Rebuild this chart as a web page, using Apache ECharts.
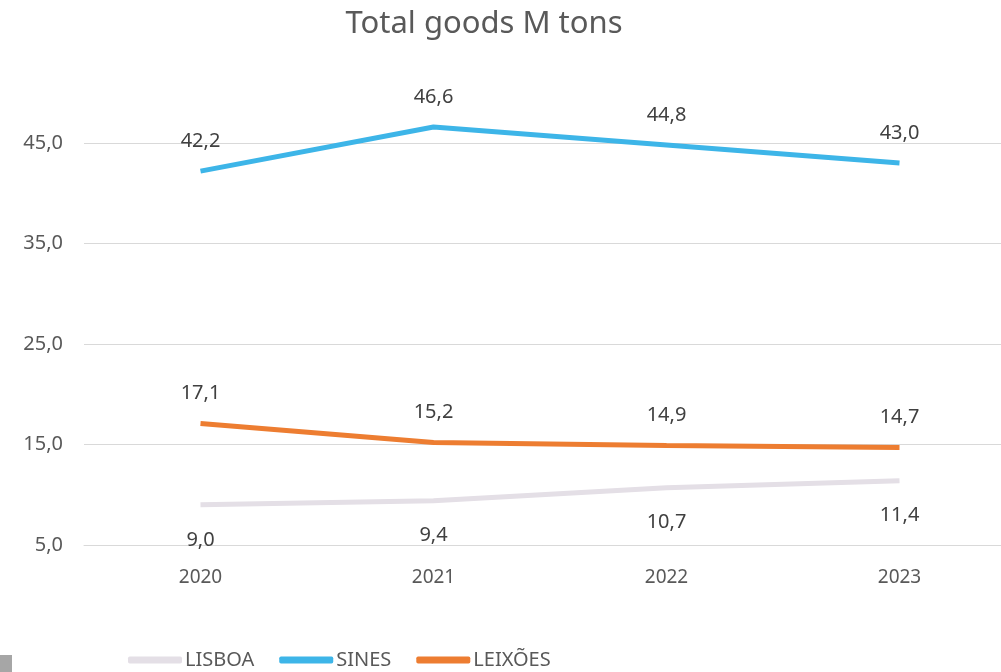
<!DOCTYPE html>
<html>
<head>
<meta charset="utf-8">
<script src="https://cdn.jsdelivr.net/npm/echarts@6/dist/echarts.min.js"></script>
<style>
  html, body { margin: 0; padding: 0; background: #fff; }
  #chart { width: 1001px; height: 672px; }
</style>
</head>
<body>
<div id="chart"></div>
<script>
var years = ['2020', '2021', '2022', '2023'];
var lisboa = [9.0, 9.4, 10.7, 11.4];
var sines = [42.2, 46.6, 44.8, 43.0];
var leixoes = [17.1, 15.2, 14.9, 14.7];

var textColor = '#595959';
var fontName = 'Noto Sans';

function fmt(v) {
    return v.toFixed(1).replace('.', ',');
}

function makeSeries(name, data, color, pos, dist) {
    return {
        name: name,
        type: 'line',
        data: data,
        symbol: 'circle',
        symbolSize: 0,
        showSymbol: true,
        clip: false,
        lineStyle: { color: color, width: 5 },
        itemStyle: { color: color },
        label: {
            show: true,
            position: pos,
            distance: dist,
            color: '#404040',
            fontSize: 20,
            fontFamily: fontName,
            formatter: function (p) { return fmt(p.value); }
        }
    };
}

var chart = echarts.init(document.getElementById('chart'));

var option = {
    animation: false,
    title: {
        text: 'Total goods M tons',
        left: 479,
        top: 4,
        textAlign: 'center',
        textStyle: {
            color: textColor,
            fontSize: 31,
            fontWeight: 'normal',
            fontFamily: fontName
        }
    },
    legend: {
        left: 128,
        top: 650,
        padding: 0,
        itemWidth: 54,
        itemHeight: 7,
        itemGap: 25,
        icon: 'roundRect',
        textStyle: { color: textColor, fontSize: 20, fontFamily: fontName, padding: [0, 0, 0, -2] },
        data: ['LISBOA', 'SINES', 'LEIXÕES']
    },
    grid: {
        left: 84,
        width: 932,
        top: 143,
        bottom: 127,
        outerBoundsMode: 'none'
    },
    xAxis: {
        type: 'category',
        data: years,
        boundaryGap: true,
        axisLine: { lineStyle: { color: '#d9d9d9', width: 1 } },
        axisTick: { show: false },
        axisLabel: { color: textColor, fontSize: 19, fontFamily: fontName, margin: 23 }
    },
    yAxis: {
        type: 'value',
        min: 5,
        max: 45,
        interval: 10,
        axisLine: { show: false },
        axisTick: { show: false },
        splitLine: { lineStyle: { color: '#d9d9d9', width: 1 } },
        axisLabel: {
            color: textColor,
            fontSize: 20,
            fontFamily: fontName,
            margin: 21,
            formatter: function (v) { return fmt(v); }
        }
    },
    graphic: [{
        type: 'rect',
        left: 0,
        top: 655,
        shape: { width: 12, height: 17 },
        style: { fill: '#a6a6a6' }
    }],
    series: [
        makeSeries('LISBOA', lisboa, '#e4dfe6', 'bottom', 25),
        makeSeries('SINES', sines, '#3db5e8', 'top', 20),
        makeSeries('LEIXÕES', leixoes, '#ed7d31', 'top', 20)
    ]
};

chart.setOption(option);
</script>
</body>
</html>
